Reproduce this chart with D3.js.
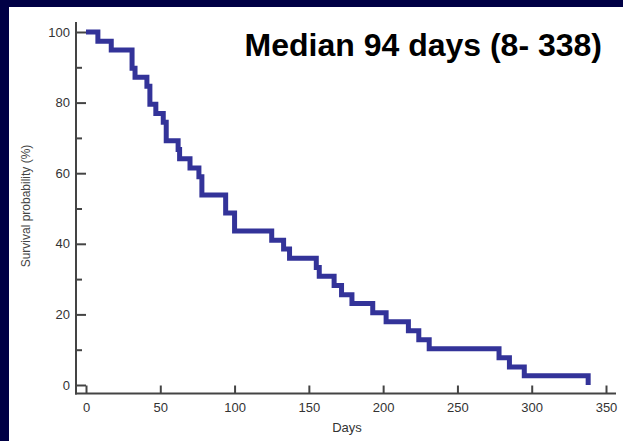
<!DOCTYPE html>
<html>
<head>
<meta charset="utf-8">
<script src="https://cdn.jsdelivr.net/npm/d3@7"></script>
<style>
	body { margin: 0; background: #000045; }
	svg { display: block; }
</style>
</head>
<body>
<div class="km-plot"></div>
<script>
// Kaplan-Meier curve, values
const days     = [0, 8, 17, 31, 33, 41, 43, 47, 52, 54, 62, 63, 70, 76, 78, 94, 100, 125, 133, 137, 155, 157, 167, 172, 179, 193, 202, 217, 224, 231, 278, 285, 295, 338]
const survival = [100, 97.4, 94.9, 89.7, 87.2, 84.6, 79.5, 76.9, 74.4, 69.2, 66.7, 64.1, 61.5, 59.0, 53.8, 48.7, 43.6, 41.0, 38.5, 35.9, 33.3, 30.8, 28.2, 25.6, 23.1, 20.5, 17.9, 15.4, 12.8, 10.3, 7.7, 5.1, 2.6, 0]
const xTicks = [0, 50, 100, 150, 200, 250, 300, 350]
const yTicks = [0, 20, 40, 60, 80, 100]
const yMinorTicks = [10, 30, 50, 70, 90]
const title = 'Median 94 days (8- 338)'

const data = days.map((d, i) => ({ t: d, s: survival[i] }))

const width = 623
const height = 441
const font = 'Arial, "Liberation Sans", sans-serif'
const axisColor = '#444'

const svg = d3.select('.km-plot')
	.append('svg')
	.attr('width', width)
	.attr('height', height)
	.attr('viewBox', [0, 0, width, height])

// white panel inside the navy frame
svg.append('rect')
	.attr('x', 9)
	.attr('y', 7)
	.attr('width', width - 9)
	.attr('height', height - 7)
	.attr('fill', 'white')

const x = d3.scaleLinear().domain([0, 350]).range([86, 606])
const y = d3.scaleLinear().domain([0, 100]).range([385, 32])

const axisX = 76
const axisY = 393.5

// y axis, ticks pointing inward
const gy = svg.append('g')
	.attr('transform', `translate(${axisX},0)`)
	.call(d3.axisLeft(y).tickValues(yTicks).tickSizeInner(-10).tickSizeOuter(0).tickPadding(6))
gy.select('.domain').remove()

const gyMinor = svg.append('g')
	.attr('transform', `translate(${axisX},0)`)
	.call(d3.axisLeft(y).tickValues(yMinorTicks).tickSizeInner(-6).tickSizeOuter(0).tickFormat(''))
gyMinor.select('.domain').remove()

// x axis
const gx = svg.append('g')
	.attr('transform', `translate(0,${axisY})`)
	.call(d3.axisBottom(x).tickValues(xTicks).tickSizeInner(-8).tickSizeOuter(0).tickPadding(9))
gx.select('.domain').remove()

svg.selectAll('.tick line')
	.attr('stroke', axisColor)
	.attr('stroke-width', 2)
svg.selectAll('.tick text')
	.attr('font-family', font)
	.attr('font-size', '13px')
	.attr('fill', '#333')

// axis lines
svg.append('line')
	.attr('x1', axisX).attr('x2', axisX)
	.attr('y1', 22).attr('y2', axisY + 1)
	.attr('stroke', axisColor)
	.attr('stroke-width', 2)
svg.append('line')
	.attr('x1', axisX - 1).attr('x2', 616)
	.attr('y1', axisY).attr('y2', axisY)
	.attr('stroke', axisColor)
	.attr('stroke-width', 2)

// survival step line
const line = d3.line()
	.x(d => x(d.t))
	.y(d => y(d.s))
	.curve(d3.curveStepAfter)

svg.append('path')
	.datum(data)
	.attr('d', line)
	.attr('fill', 'none')
	.attr('stroke', '#333399')
	.attr('stroke-width', 5)

// axis titles
svg.append('text')
	.text('Days')
	.attr('x', 347)
	.attr('y', 432)
	.attr('text-anchor', 'middle')
	.attr('font-family', font)
	.attr('font-size', '13px')
	.attr('fill', '#333')

svg.append('text')
	.text('Survival probability (%)')
	.attr('transform', 'translate(30,206) rotate(-90)')
	.attr('text-anchor', 'middle')
	.attr('font-family', font)
	.attr('font-size', '12px')
	.attr('fill', '#444')

// median label
svg.append('text')
	.text(title)
	.attr('x', 602)
	.attr('y', 56)
	.attr('text-anchor', 'end')
	.attr('font-family', font)
	.attr('font-weight', 'bold')
	.attr('font-size', '32px')
	.attr('fill', 'black')
</script>
</body>
</html>
